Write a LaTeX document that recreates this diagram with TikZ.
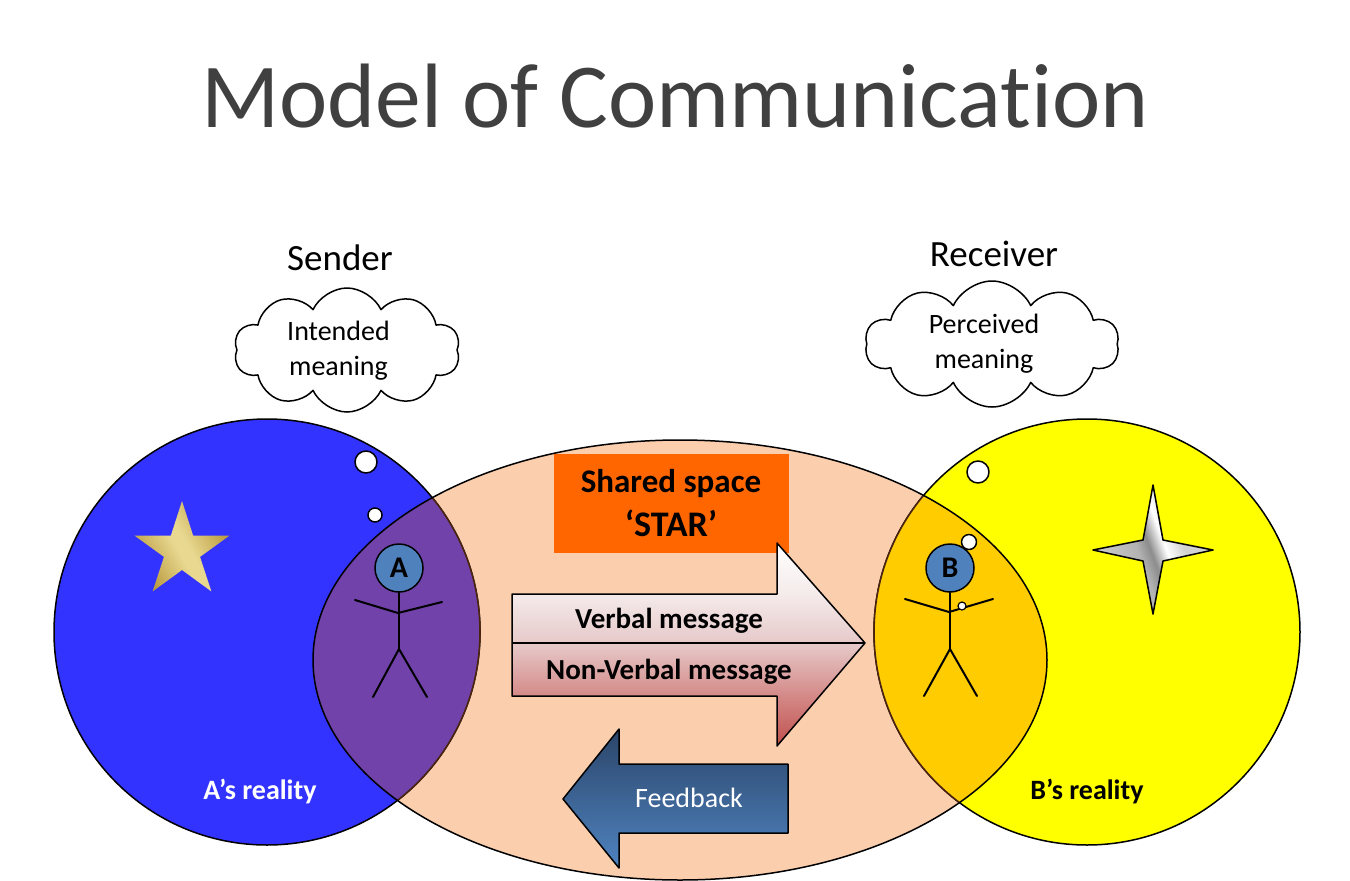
\documentclass[tikz,border=0pt]{standalone}
\usepackage{fontspec}
\setmainfont{Carlito}[Ligatures=NoCommon]
\usetikzlibrary{shapes.symbols,shapes.geometric}
\definecolor{titlegray}{HTML}{404040}
\definecolor{realA}{HTML}{3333FF}
\definecolor{realB}{HTML}{FFFF00}
\definecolor{peach}{HTML}{FBCEAD}
\definecolor{purpleov}{HTML}{7142AA}
\definecolor{orangeov}{HTML}{FFCC00}
\definecolor{brownline}{HTML}{4A2410}
\definecolor{headblue}{HTML}{4F81BD}
\definecolor{shareor}{HTML}{FF6600}
\definecolor{vbot}{HTML}{C0504D}
\definecolor{vq}{HTML}{D48A88}
\definecolor{vh}{HTML}{E6C8C8}
\definecolor{vt}{HTML}{F5EBEB}
\definecolor{fbtop}{HTML}{2B4569}
\definecolor{fbbot}{HTML}{4F83C0}
\definecolor{goldD}{HTML}{B8983C}
\definecolor{goldL}{HTML}{E8D890}
\pgfdeclareverticalshading{verbalsh}{100bp}{color(0bp)=(vbot); color(25bp)=(vbot); color(37.5bp)=(vq); color(50bp)=(vh); color(62.5bp)=(vt); color(75bp)=(white); color(100bp)=(white)}
\pgfdeclarehorizontalshading{goldsh}{100bp}{color(0bp)=(goldD); color(25bp)=(goldD); color(47bp)=(goldL); color(53bp)=(goldL); color(75bp)=(goldD); color(100bp)=(goldD)}
\pgfdeclarehorizontalshading{metalsh}{100bp}{color(0bp)=(gray!35); color(25bp)=(gray!35); color(44bp)=(gray!60); color(49bp)=(gray!90); color(55bp)=(white); color(62bp)=(gray!35); color(75bp)=(gray!35); color(100bp)=(gray!35)}
\tikzset{
  outline/.style={draw=black, line width=1.5pt},
  bubble/.style={circle, fill=white, draw=black, line width=1.5pt, inner sep=0pt},
  thought/.style={cloud, cloud puffs=10, cloud puff arc=130, draw=black, line width=1.5pt, fill=white, inner sep=0pt},
  headnode/.style={circle, fill=headblue, draw=black, line width=1.5pt, minimum size=48pt, inner sep=0pt, font=\fontsize{30}{32}\bfseries\selectfont},
  limb/.style={draw=black, line width=2pt, line cap=round},
  lbl/.style={anchor=base, inner sep=0pt},
}
\begin{document}
\begin{tikzpicture}[x=1pt,y=-1pt,line join=round]
\useasboundingbox (0,0) rectangle (1350,881);
\fill[white] (0,0) rectangle (1350,881);

% title
\node[lbl, text=titlegray, font=\fontsize{91.5}{100}\selectfont] (title) at (675,127) {Model of Communication};

% reality circles and shared ellipse
\coordinate (E) at (680,660);
\coordinate (CA) at (267,632);
\coordinate (CB) at (1087,632);
\fill[peach] (E) ellipse [x radius=367pt, y radius=220pt];
\filldraw[fill=realA, outline] (CA) circle [radius=213pt];
\filldraw[fill=realB, outline] (CB) circle [radius=213pt];
\begin{scope}
  \clip (E) ellipse [x radius=367pt, y radius=220pt];
  \fill[purpleov] (CA) circle [radius=213pt];
  \fill[orangeov] (CB) circle [radius=213pt];
  \draw[brownline, line width=1.6pt] (CA) circle [radius=213pt] (CB) circle [radius=213pt];
\end{scope}
\draw[outline] (E) ellipse [x radius=367pt, y radius=220pt];

% labels above
\node[lbl, font=\fontsize{37}{40}\selectfont] (sender) at (340,270) {Sender};
\node[lbl, font=\fontsize{37}{40}\selectfont] (receiver) at (994,266) {Receiver};

% clouds
\node[thought, minimum width=226pt, minimum height=124pt] (cloudA) at (347,350) {};
\node[thought, minimum width=254pt, minimum height=126pt] (cloudB) at (992,344) {};
\node[lbl, font=\fontsize{28}{35}\selectfont] (intended) at (338.5,340) {Intended};
\node[lbl, font=\fontsize{28}{35}\selectfont] (meaningA) at (338.5,375) {meaning};
\node[lbl, font=\fontsize{28}{35}\selectfont] (perceived) at (984,333) {Perceived};
\node[lbl, font=\fontsize{28}{35}\selectfont] (meaningB) at (984,368) {meaning};

% thought bubbles
\node[bubble, minimum size=22pt] (ba1) at (366,462) {};
\node[bubble, minimum size=14pt] (ba2) at (375,515) {};
\node[bubble, minimum size=22pt] (bb1) at (978,472) {};
\node[bubble, minimum size=15pt] (bb2) at (969,542) {};

% gold star
\shade[shading=goldsh, shading angle=30, shift={(182,551)}]
  (90:50pt) -- (126:19pt) -- (162:50pt) -- (198:19pt) -- (234:50pt) -- (270:19pt)
  -- (306:50pt) -- (342:19pt) -- (18:50pt) -- (54:19pt) -- cycle;

% gray four-point star
\shadedraw[shading=metalsh, shading angle=20, draw=black, line width=1.5pt]
  (1153,485) -- (1163,540) -- (1213,550) -- (1163,561) -- (1153,614)
  -- (1143,561) -- (1093,550) -- (1143,540) -- cycle;

% stick figure A
\node[headnode] (headA) at (399,568) {A};
\coordinate (hipA) at (399,649);
\draw[limb] (headA.south) -- (hipA);
\draw[limb] (355,600) -- (398,613) -- (442,602);
\draw[limb] (373,697) -- (hipA) -- (427,697);

% stick figure B
\node[headnode] (headB) at (950,568) {B};
\coordinate (hipB) at (950,649);
\draw[limb] (headB.south) -- (hipB);
\draw[limb] (905,599) -- (949,612) -- (993,599);
\draw[limb] (924,696) -- (hipB) -- (977,696);
\node[bubble, minimum size=8pt, line width=1.2pt] (bb3) at (962,606) {};

% shared space box
\node[fill=shareor, minimum width=235pt, minimum height=99pt, inner sep=0pt] (share) at (671.5,503.5) {};
\node[lbl, font=\fontsize{33}{36}\bfseries\selectfont] (sharedtxt) at (671,492) {Shared space};
\node[lbl, font=\fontsize{36}{38}\bfseries\selectfont] (startxt) at (671,536) {‘STAR’};

% verbal / non-verbal arrow
\coordinate (vtip) at (865,643);
\coordinate (vleft) at (512,643);
\shadedraw[shading=verbalsh, draw=black, line width=1.5pt]
  (512,594) -- (777,594) -- (777,543) -- (vtip) -- (777,746) -- (777,696) -- (512,696) -- cycle;
\draw[black, line width=1.5pt] (vleft) -- (vtip);
\node[lbl, font=\fontsize{29}{32}\bfseries\selectfont] (verbal) at (669,628) {Verbal message};
\node[lbl, font=\fontsize{29}{32}\bfseries\selectfont] (nonverbal) at (669,679) {Non-Verbal message};

% feedback arrow
\coordinate (ftip) at (563,799);
\shadedraw[top color=fbtop, bottom color=fbbot, draw=black, line width=1.5pt]
  (788,764) -- (619,764) -- (619,729) -- (ftip) -- (619,868) -- (619,833) -- (788,833) -- cycle;
\node[lbl, text=white, font=\fontsize{28}{32}\selectfont] (feedback) at (689,807) {Feedback};

% reality labels
\node[lbl, text=white, font=\fontsize{28}{32}\bfseries\selectfont] (realityA) at (260,799) {A’s reality};
\node[lbl, text=black, font=\fontsize{28}{32}\bfseries\selectfont] (realityB) at (1087,799) {B’s reality};
\end{tikzpicture}
\end{document}
